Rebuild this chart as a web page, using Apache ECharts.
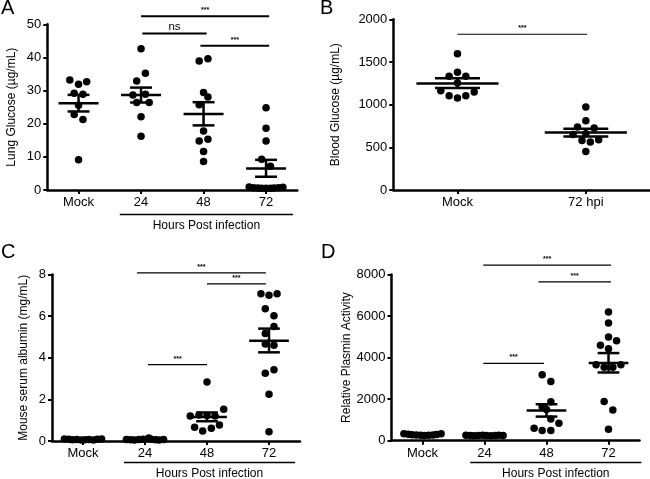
<!DOCTYPE html>
<html><head><meta charset="utf-8">
<script src="https://cdn.jsdelivr.net/npm/echarts@6/dist/echarts.min.js"></script>
<style>html,body{margin:0;padding:0;background:#fff}#c{width:650px;height:479px}</style>
</head><body><div id="c"></div>
<script>
// ---------- categories ----------
const catsHours = ['Mock', '24', '48', '72'];
const catsB = ['Mock', '72 hpi'];

// ---------- tick settings ----------
const ticksA = [0, 50, 10];
const ticksB = [0, 2000, 500];
const ticksC = [0, 8, 2];
const ticksD = [0, 8000, 2000];

// ---------- Panel A : Lung Glucose (µg/mL) ----------
const aMock = [33.2, 31.9, 32.7, 29.2, 28.9, 25.6, 22.8, 21.3, 9.1];
const aMockJit = [-0.14, 0, 0.13, -0.07, 0.07, 0, -0.07, 0.07, 0];
const a24 = [42.6, 35.2, 32.9, 28.7, 28.9, 26.4, 26.4, 22.1, 16.2];
const a24Jit = [0, 0.07, -0.07, -0.13, 0.07, -0.07, 0.13, 0, 0];
const a48 = [38.9, 39.6, 29.4, 28.1, 25.7, 17.8, 14.8, 15.3, 11.6, 8.6];
const a48Jit = [-0.07, 0.07, 0, 0.07, -0.07, 0, -0.07, 0.07, 0, 0];
const a72 = [24.8, 18.6, 14.8, 9.3, 7.2, 0.9, 0.7, 0.6, 0.5, 0.5, 0.5, 0.6, 0.7, 0.8];
const a72Jit = [0, 0, 0, -0.07, 0.07, -0.27, -0.2, -0.13, -0.07, 0, 0.07, 0.13, 0.2, 0.27];
// mean, SEM upper, SEM lower per group
const aMean = [26.2, 28.7, 22.9, 6.5];
const aSemHi = [28.7, 30.9, 26.5, 9.1];
const aSemLo = [23.7, 26.4, 19.5, 4.0];
// significance: from, to, level, label
const aSig = [[2.0, 4.05, 52.4, '***'], [2.02, 3.05, 47.2, 'ns'], [2.95, 4.05, 43.5, '***']];

// ---------- Panel B : Blood Glucose (µg/mL) ----------
const bMock = [1595, 1380, 1333, 1333, 1255, 1164, 1149, 1105, 1105, 1078];
const bMockJit = [0, 0, -0.065, 0.065, 0, -0.13, 0.13, -0.065, 0.065, 0];
const b72 = [972, 811, 737, 725, 650, 660, 580, 561, 588, 451];
const b72Jit = [0, 0, -0.065, 0.065, -0.1, 0, -0.03, 0.035, 0.1, 0];
const bMean = [1247, 674];
const bSemHi = [1309, 717];
const bSemLo = [1196, 627];
const bSig = [[1.0, 2.01, 1825, '***']];

// ---------- Panel C : Mouse serum albumin (mg/mL) ----------
const cMock = [0.1, 0.08, 0.06, 0.07, 0.05, 0.06, 0.07, 0.05, 0.08, 0.1];
const cMockJit = [-0.3, -0.23, -0.17, -0.1, -0.03, 0.03, 0.1, 0.17, 0.23, 0.3];
const c24 = [0.07, 0.06, 0.05, 0.07, 0.09, 0.15, 0.08, 0.06, 0.05, 0.07];
const c24Jit = [-0.3, -0.23, -0.17, -0.1, -0.03, 0.06, 0.1, 0.17, 0.23, 0.3];
const c48 = [2.83, 1.53, 1.2, 1.25, 1.22, 1.2, 0.66, 0.48, 0.61, 0.77];
const c48Jit = [0, 0.27, -0.27, -0.13, 0, 0.13, -0.2, -0.07, 0.07, 0.2];
const c72 = [7.07, 7.0, 7.07, 6.36, 6.02, 5.5, 5.16, 4.66, 4.6, 3.26, 3.42, 2.25, 0.45];
const c72Jit = [-0.13, 0, 0.13, -0.06, 0.08, 0.08, -0.06, -0.06, 0.08, -0.06, 0.08, 0, 0];
const cMean = [0.07, 0.08, 1.15, 4.82];
const cSemHi = [0.08, 0.09, 1.37, 5.4];
const cSemLo = [0.06, 0.07, 0.95, 4.26];
const cSig = [[1.87, 3.95, 8.08, '***'], [3.0, 3.95, 7.55, '***'], [2.05, 3.0, 3.67, '***']];

// ---------- Panel D : Relative Plasmin Activity ----------
const dMock = [330, 310, 290, 270, 260, 255, 265, 280, 295, 330];
const dMockJit = [-0.3, -0.23, -0.17, -0.1, -0.03, 0.03, 0.1, 0.17, 0.23, 0.3];
const d24 = [260, 250, 240, 250, 265, 250, 240, 250, 260, 255];
const d24Jit = [-0.3, -0.23, -0.17, -0.1, -0.03, 0.03, 0.1, 0.17, 0.23, 0.3];
const d48 = [3170, 2850, 1880, 1640, 1500, 1050, 840, 600, 490, 490];
const d48Jit = [-0.07, 0.07, 0.07, -0.07, 0, 0.07, 0.2, -0.2, -0.07, 0.07];
const d72 = [6200, 5670, 4990, 4590, 4815, 4430, 3655, 3540, 3540, 3655, 1884, 1480, 547];
const d72Jit = [0, 0, 0, -0.13, 0.13, 0, -0.2, -0.07, 0.07, 0.2, -0.07, 0.07, 0];
const dMean = [280, 250, 1449, 3735];
const dSemHi = [300, 260, 1755, 4218];
const dSemLo = [260, 240, 1160, 3284];
const dSig = [[1.98, 4.04, 8447, '***'], [2.87, 4.04, 7644, '***'], [1.98, 2.96, 3720, '***']];

// "Hours Post infection" bracket extents
const hoursA = [1.66, 4.43];
const hoursC = [1.66, 4.42];
const hoursD = [1.77, 4.53];

// ---------- helpers ----------
const FONT = 'Liberation Sans, Arial, sans-serif';
function pts(center, vals, jit) { return vals.map((v, i) => [center + jit[i], v]); }
function meanData(mean, hi, lo) { return mean.map((m, i) => [i + 1, m, hi[i], lo[i]]); }

const grids = [
  { left: 47.3, top: 24.3, width: 250, height: 165.7 },
  { left: 393.3, top: 19.3, width: 256.7, height: 170.7 },
  { left: 52, top: 274.5, width: 248, height: 166.5 },
  { left: 391.5, top: 274.5, width: 248, height: 166.2 }
];

const xAxes = [], yAxes = [];
const catsList = [catsHours, catsB, catsHours, catsHours];
const ticksList = [ticksA, ticksB, ticksC, ticksD];
const names = ['Lung Glucose (\u00b5g/mL)', 'Blood Glucose (\u00b5g/mL)', 'Mouse serum albumin (mg/mL)', 'Relative Plasmin Activity'];
const nameGaps = [30, 52, 22, 34];
for (let g = 0; g < 4; g++) {
  xAxes.push({
    type: 'category', gridIndex: g, data: catsList[g], boundaryGap: true,
    axisLine: { show: true, lineStyle: { color: '#000', width: 2.5 } },
    axisTick: { show: true, alignWithLabel: true, length: 4, lineStyle: { color: '#000', width: 2 } },
    axisLabel: { color: '#000', fontSize: 13, fontFamily: FONT, margin: 6 },
    splitLine: { show: false }
  });
  yAxes.push({
    type: 'value', gridIndex: g, min: ticksList[g][0], max: ticksList[g][1], interval: ticksList[g][2],
    name: names[g], nameLocation: 'middle', nameRotate: 90, nameGap: nameGaps[g],
    nameTextStyle: { color: '#000', fontSize: 12, fontFamily: FONT },
    axisLine: { show: true, lineStyle: { color: '#000', width: 2.5 } },
    axisTick: { show: true, length: 4, lineStyle: { color: '#000', width: 2 } },
    axisLabel: { color: '#000', fontSize: 13, fontFamily: FONT, margin: 6, formatter: v => String(v) },
    splitLine: { show: false }
  });
}
// hidden value x axes (indices 4..7)
for (let g = 0; g < 4; g++) {
  xAxes.push({ type: 'value', gridIndex: g, min: 0.5, max: catsList[g].length + 0.5, show: false });
}

const series = [];
function addPanel(g, groups, mean, hi, lo, sig, lineW) {
  const data = [];
  groups.forEach((grp, i) => data.push(...pts(i + 1, grp[0], grp[1])));
  series.push({
    type: 'scatter', xAxisIndex: 4 + g, yAxisIndex: g, data: data,
    symbol: 'circle', symbolSize: 7.5, itemStyle: { color: '#000', opacity: 1 }, silent: true, z: 3
  });
  series.push({
    type: 'custom', xAxisIndex: 4 + g, yAxisIndex: g, data: meanData(mean, hi, lo), z: 4,
    renderItem: function (params, api) {
      const x = api.value(0);
      const m = api.coord([x, api.value(1)]);
      const h = api.coord([x, api.value(2)]);
      const l = api.coord([x, api.value(3)]);
      const unit = api.size([1, 0])[0];
      const mw = unit * 0.32, sw = unit * 0.175;
      const st = { stroke: '#000', lineWidth: 2.5 };
      return { type: 'group', children: [
        { type: 'line', shape: { x1: m[0] - mw, y1: m[1], x2: m[0] + mw, y2: m[1] }, style: st },
        { type: 'line', shape: { x1: m[0] - sw, y1: h[1], x2: m[0] + sw, y2: h[1] }, style: st },
        { type: 'line', shape: { x1: m[0] - sw, y1: l[1], x2: m[0] + sw, y2: l[1] }, style: st },
        { type: 'line', shape: { x1: m[0], y1: h[1], x2: m[0], y2: l[1] }, style: st }
      ] };
    }
  });
  series.push({
    type: 'custom', xAxisIndex: 4 + g, yAxisIndex: g, data: sig, clip: false, z: 5,
    renderItem: function (params, api) {
      const p1 = api.coord([api.value(0), api.value(2)]);
      const p2 = api.coord([api.value(1), api.value(2)]);
      const lab = sig[params.dataIndex][3];
      const isNs = lab === 'ns';
      return { type: 'group', children: [
        { type: 'line', shape: { x1: p1[0], y1: p1[1], x2: p2[0], y2: p2[1] }, style: { stroke: '#000', lineWidth: lineW } },
        { type: 'text', x: (p1[0] + p2[0]) / 2, y: p1[1] - (isNs ? 0.5 : 2.5),
          style: { text: lab, fill: '#000', font: (isNs ? '11.5px ' : 'bold 7px ') + FONT,
                   textAlign: 'center', textVerticalAlign: 'bottom', align: 'center', verticalAlign: 'bottom' } }
      ] };
    }
  });
}
function addHours(g, ext, off) {
  series.push({
    type: 'custom', xAxisIndex: 4 + g, yAxisIndex: g, data: [[ext[0], ext[1]]], clip: false, z: 5,
    renderItem: function (params, api) {
      const p1 = api.coord([api.value(0), 0]);
      const p2 = api.coord([api.value(1), 0]);
      const y = Math.round(p1[1] + off) + 0.5;
      return { type: 'group', children: [
        { type: 'line', shape: { x1: p1[0], y1: y, x2: p2[0], y2: y }, style: { stroke: '#000', lineWidth: 1.3 } },
        { type: 'text', x: (p1[0] + p2[0]) / 2, y: y + 11,
          style: { text: 'Hours Post infection', fill: '#000', font: '12px ' + FONT,
                   textAlign: 'center', textVerticalAlign: 'middle', align: 'center', verticalAlign: 'middle' } }
      ] };
    }
  });
}

addPanel(0, [[aMock, aMockJit], [a24, a24Jit], [a48, a48Jit], [a72, a72Jit]], aMean, aSemHi, aSemLo, aSig, 2);
addPanel(1, [[bMock, bMockJit], [b72, b72Jit]], bMean, bSemHi, bSemLo, bSig, 1.2);
addPanel(2, [[cMock, cMockJit], [c24, c24Jit], [c48, c48Jit], [c72, c72Jit]], cMean, cSemHi, cSemLo, cSig, 1.3);
addPanel(3, [[dMock, dMockJit], [d24, d24Jit], [d48, d48Jit], [d72, d72Jit]], dMean, dSemHi, dSemLo, dSig, 1.3);
addHours(0, hoursA, 24);
addHours(2, hoursC, 21);
addHours(3, hoursD, 21);

const letterStyle = { fontSize: 20, fontWeight: 'normal', color: '#000', fontFamily: FONT };
const option = {
  animation: false,
  backgroundColor: '#fff',
  title: [
    { text: 'A', left: 1, top: -2, padding: 0, textStyle: letterStyle },
    { text: 'B', left: 320, top: -2, padding: 0, textStyle: letterStyle },
    { text: 'C', left: 1, top: 242, padding: 0, textStyle: letterStyle },
    { text: 'D', left: 321, top: 242, padding: 0, textStyle: letterStyle }
  ],
  grid: grids,
  xAxis: xAxes,
  yAxis: yAxes,
  series: series
};
const chart = echarts.init(document.getElementById('c'), null, { renderer: 'canvas' });
chart.setOption(option);
</script></body></html>
